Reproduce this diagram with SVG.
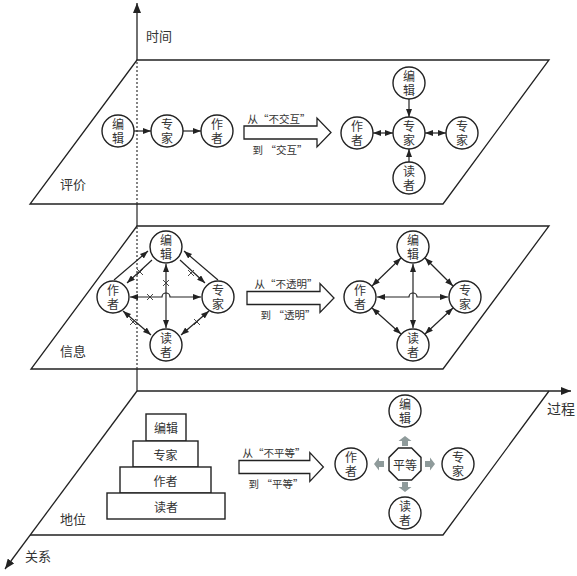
<svg xmlns="http://www.w3.org/2000/svg" width="577" height="576" viewBox="0 0 577 576">
<defs>
<style>
.pl{fill:none;stroke:#222;stroke-width:1.3}
.nd{fill:#fff;stroke:#222;stroke-width:1.4}
.bx{fill:#fff;stroke:#222;stroke-width:1.4}
.t{font-family:"Noto Sans CJK SC","Noto Sans CJK TC",sans-serif;font-size:12px;fill:#333;text-anchor:middle;dominant-baseline:central}
.v{font-family:"Noto Sans CJK SC","Noto Sans CJK TC",sans-serif;font-size:12px;fill:#333;text-anchor:middle;writing-mode:vertical-rl;letter-spacing:2px}
.lb{font-family:"Noto Sans CJK SC",sans-serif;font-size:13px;fill:#333;dominant-baseline:central}
.s{font-family:"Noto Sans CJK SC",sans-serif;font-size:10.5px;fill:#333;text-anchor:middle;dominant-baseline:central}
.ln{stroke:#222;stroke-width:1.2;fill:none}
.ar{marker-end:url(#ah)}
.da{marker-start:url(#ah);marker-end:url(#ah)}
.ax{stroke:#222;stroke-width:1.3;fill:none;marker-end:url(#axh)}
.dot{stroke:#333;stroke-width:1.2;stroke-dasharray:2 2;fill:none}
.big{fill:#fff;stroke:#222;stroke-width:1.3}
.ga{fill:#8f9b9b}
.x{stroke:#333;stroke-width:0.9}
</style>
<marker id="ah" viewBox="0 0 8 6" refX="8" refY="3" markerWidth="8" markerHeight="6" markerUnits="userSpaceOnUse" orient="auto-start-reverse"><path d="M0,0 L8,3 L0,6 Z" fill="#222"/></marker>
<marker id="axh" viewBox="0 0 10 8" refX="10" refY="4" markerWidth="10" markerHeight="8" markerUnits="userSpaceOnUse" orient="auto"><path d="M0,0 L10,4 L0,8 Z" fill="#222"/></marker>
<path id="bigarrow" d="M0,-6.5 H73 V-14.5 L87,0 L73,14.5 V6.5 H0 Z"/>
<path id="garrow" d="M0,-3 H5 V-6.5 L10,0 L5,6.5 V3 H0 Z"/>
</defs>
<rect width="577" height="576" fill="#fff"/>

<g id="planes">
<path class="pl" d="M137,60 H549 L443,204 H30 Z"/>
<path class="pl" d="M137,226 H549 L443,369 H31 Z"/>
<path class="pl" d="M549,391 L443,535 H30"/>
</g>

<g id="axes">
<line class="ln" x1="137" y1="391" x2="137" y2="369"/>
<line class="dot" x1="137" y1="369" x2="137" y2="226"/>
<line class="ln" x1="137" y1="226" x2="137" y2="204"/>
<line class="dot" x1="137" y1="204" x2="137" y2="60"/>
<line class="ax" x1="137" y1="60" x2="137" y2="3"/>
<line class="ax" x1="137" y1="391" x2="571" y2="391"/>
<line class="ax" x1="137" y1="391" x2="5" y2="569"/>
<text class="lb" x="146" y="35">时间</text>
<text class="lb" x="547" y="408" style="font-size:14px">过程</text>
<text class="lb" x="25" y="555">关系</text>
<text class="lb" x="60" y="183">评价</text>
<text class="lb" x="60" y="350">信息</text>
<text class="lb" x="60" y="518">地位</text>
</g>

<g id="connectors">
<line class="ln ar" x1="134" y1="131" x2="151" y2="131"/>
<line class="ln ar" x1="183" y1="131" x2="201" y2="131"/>
<line class="ln ar" x1="409" y1="99" x2="409" y2="117"/>
<line class="ln ar" x1="409" y1="162" x2="409" y2="149"/>
<line class="ln da" x1="373" y1="133" x2="393" y2="133"/>
<line class="ln da" x1="425" y1="133" x2="446" y2="133"/>
<line class="ln ar" x1="114" y1="280" x2="148" y2="251"/>
<line class="ln ar" x1="152" y1="260" x2="127" y2="283"/>
<line class="ln ar" x1="218" y1="280" x2="184" y2="251"/>
<line class="ln ar" x1="180" y1="260" x2="205" y2="283"/>
<line class="ln da" x1="123" y1="311" x2="151" y2="335"/>
<line class="ln da" x1="209" y1="311" x2="181" y2="335"/>
<line class="ln da" x1="166" y1="264" x2="166" y2="328"/>
<path class="ln da" d="M130,297 H162 A4,4 0 0 1 170,297 H201"/>
<g class="x">
<path d="M137,269 l6,6 M143,269 l-6,6"/>
<path d="M188,270 l6,6 M194,270 l-6,6"/>
<path d="M130,319 l6,6 M136,319 l-6,6"/>
<path d="M194,319 l6,6 M200,319 l-6,6"/>
<path d="M163,280 l6,6 M169,280 l-6,6"/>
<path d="M147,294 l6,6 M153,294 l-6,6"/>
</g>
<line class="ln da" x1="401" y1="258" x2="372" y2="286"/>
<line class="ln da" x1="425" y1="258" x2="453" y2="286"/>
<line class="ln da" x1="372" y1="308" x2="401" y2="334"/>
<line class="ln da" x1="453" y1="308" x2="425" y2="334"/>
<line class="ln da" x1="413" y1="264" x2="413" y2="328"/>
<path class="ln da" d="M377,297 H409 A4,4 0 0 1 417,297 H448"/>
<use href="#bigarrow" class="big" transform="translate(244,132.5)"/>
<use href="#bigarrow" class="big" transform="translate(247,298)"/>
<use href="#bigarrow" class="big" transform="translate(239,467) scale(0.97,1)"/>
<text class="s" x="279" y="118">从“不交互”</text>
<text class="s" x="280" y="149">到 “交互”</text>
<text class="s" x="286" y="283">从“不透明”</text>
<text class="s" x="288" y="314">到 “透明”</text>
<text class="s" x="274" y="452">从“不平等”</text>
<text class="s" x="276" y="483">到 “平等”</text>
<use href="#garrow" class="ga" transform="translate(405,446) rotate(-90)"/>
<use href="#garrow" class="ga" transform="translate(384,464) rotate(180)"/>
<use href="#garrow" class="ga" transform="translate(425,464)"/>
<use href="#garrow" class="ga" transform="translate(405,482) rotate(90)"/>
</g>

<g id="t-bianji"><circle class="nd" cx="118" cy="131" r="16"/><text class="v" x="118" y="132">编辑</text></g>
<g id="t-zhuanjia"><circle class="nd" cx="167" cy="131" r="16"/><text class="v" x="167" y="132">专家</text></g>
<g id="t-zuozhe"><circle class="nd" cx="217" cy="131" r="16"/><text class="v" x="217" y="132">作者</text></g>
<g id="tr-bianji"><circle class="nd" cx="409" cy="83" r="16"/><text class="v" x="409" y="84">编辑</text></g>
<g id="tr-zhuanjia"><circle class="nd" cx="409" cy="133" r="16"/><text class="v" x="409" y="134">专家</text></g>
<g id="tr-zuozhe"><circle class="nd" cx="357" cy="133" r="16"/><text class="v" x="357" y="134">作者</text></g>
<g id="tr-zhuanjia2"><circle class="nd" cx="462" cy="133" r="16"/><text class="v" x="462" y="134">专家</text></g>
<g id="tr-duzhe"><circle class="nd" cx="409" cy="178" r="16"/><text class="v" x="409" y="179">读者</text></g>

<g id="ml-bianji"><circle class="nd" cx="166" cy="247" r="16"/><text class="v" x="166" y="248">编辑</text></g>
<g id="ml-zuozhe"><circle class="nd" cx="113" cy="297" r="16"/><text class="v" x="113" y="298">作者</text></g>
<g id="ml-zhuanjia"><circle class="nd" cx="218" cy="297" r="16"/><text class="v" x="218" y="298">专家</text></g>
<g id="ml-duzhe"><circle class="nd" cx="166" cy="345" r="16"/><text class="v" x="166" y="346">读者</text></g>
<g id="mr-bianji"><circle class="nd" cx="413" cy="247" r="16"/><text class="v" x="413" y="248">编辑</text></g>
<g id="mr-zuozhe"><circle class="nd" cx="360" cy="297" r="16"/><text class="v" x="360" y="298">作者</text></g>
<g id="mr-zhuanjia"><circle class="nd" cx="465" cy="297" r="16"/><text class="v" x="465" y="298">专家</text></g>
<g id="mr-duzhe"><circle class="nd" cx="413" cy="345" r="16"/><text class="v" x="413" y="346">读者</text></g>

<g id="b-bianji"><rect class="bx" x="146" y="414" width="40" height="27"/><text class="t" x="166" y="427.5">编辑</text></g>
<g id="b-zhuanjia"><rect class="bx" x="133" y="441" width="65" height="26"/><text class="t" x="165.5" y="454">专家</text></g>
<g id="b-zuozhe"><rect class="bx" x="120" y="467" width="91" height="26"/><text class="t" x="165.5" y="480">作者</text></g>
<g id="b-duzhe"><rect class="bx" x="107" y="493" width="118" height="26"/><text class="t" x="166" y="506">读者</text></g>

<g id="br-pingdeng"><path class="nd" d="M398.4,448 H411.6 L421,457.4 V470.6 L411.6,480 H398.4 L389,470.6 V457.4 Z"/><text class="t" x="405" y="464">平等</text></g>
<g id="br-bianji"><circle class="nd" cx="405" cy="411" r="16"/><text class="v" x="405" y="412">编辑</text></g>
<g id="br-zuozhe"><circle class="nd" cx="351" cy="464" r="16"/><text class="v" x="351" y="465">作者</text></g>
<g id="br-zhuanjia"><circle class="nd" cx="458" cy="464" r="16"/><text class="v" x="458" y="465">专家</text></g>
<g id="br-duzhe"><circle class="nd" cx="405" cy="513" r="16"/><text class="v" x="405" y="514">读者</text></g>
</svg>
